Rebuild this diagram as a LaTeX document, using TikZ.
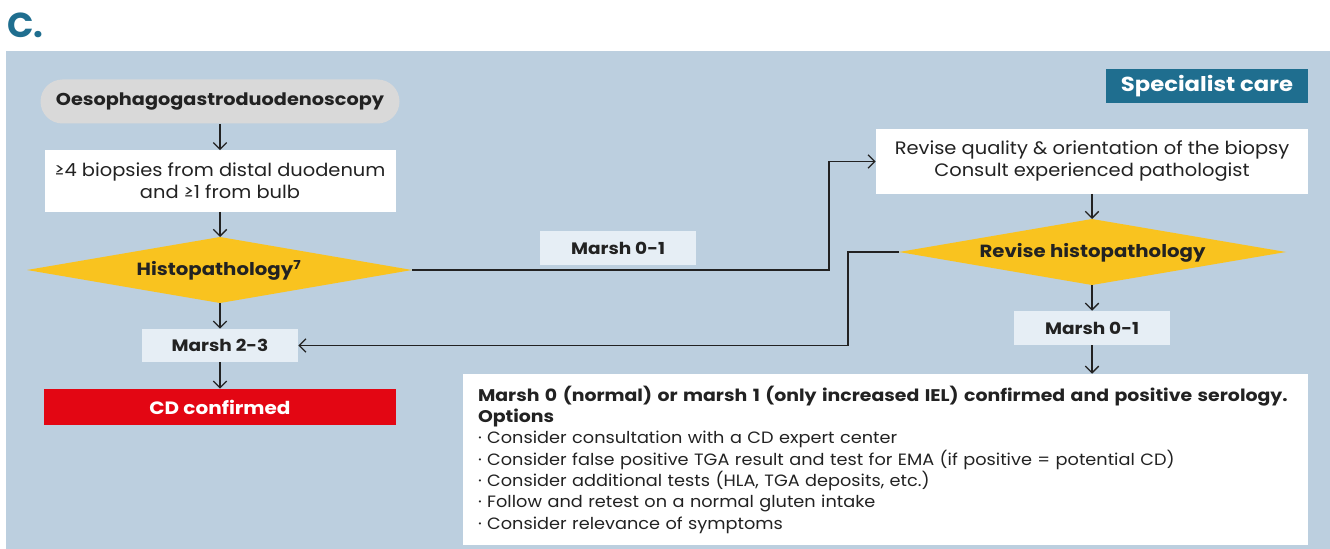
\documentclass[tikz,border=0pt]{standalone}
\usepackage{fontspec}
\setmainfont{Poppins}[FakeStretch=1.08, BoldFeatures={FakeStretch=1.12}]
\newfontfamily\titlefont{Poppins}
\usetikzlibrary{arrows.meta,calc}
\definecolor{bgblue}{HTML}{BCCFDF}
\definecolor{pillgray}{HTML}{D9D9D9}
\definecolor{ylw}{HTML}{F9C31F}
\definecolor{lbl}{HTML}{E6EEF5}
\definecolor{cdred}{HTML}{E30613}
\definecolor{teal}{HTML}{1F6E8F}
\definecolor{ink}{HTML}{222222}
\tikzset{
  every node/.style={text=ink},
  whitebox/.style={fill=white, draw=none, inner sep=0pt, align=center, font=\fontsize{13.5}{16.5}\selectfont},
  lblbox/.style={fill=lbl, draw=none, inner sep=0pt, align=center, minimum width=117pt, font=\fontsize{12.4}{15}\selectfont\bfseries},
  decision/.style={fill=ylw, draw=none},
  dtext/.style={inner sep=0pt, font=\fontsize{13.2}{15}\selectfont\bfseries},
  conn/.style={draw=ink, line width=1pt, -{Straight Barb[length=5pt,width=10pt,line width=1pt]}},
  plain/.style={draw=ink, line width=1pt}
}
\begin{document}
\begin{tikzpicture}[x=0.75pt,y=-0.75pt]
\useasboundingbox (0,0) rectangle (1330,549);
\fill[bgblue] (6,51) rectangle (1330,549);
\node[anchor=base west, inner sep=0pt, text=teal, font=\fontsize{26}{26}\titlefont\bfseries] (title) at (7,38) {C.};
\node[fill=teal, inner sep=0pt, minimum width=151.5pt, minimum height=25.5pt, text=white, font=\fontsize{15.2}{16}\selectfont\bfseries] (spec) at (1207,86.5) {Specialist care};
% left column
\node[fill=pillgray, rounded corners=16.5pt, inner sep=0pt, minimum width=269.25pt, minimum height=33pt, font=\fontsize{12.9}{15}\selectfont\bfseries] (egd) at (220,101.5) {Oesophagogastroduodenoscopy};
\node[whitebox, minimum width=263.25pt, minimum height=45.75pt] (bio) at (220,181) {≥4 biopsies from distal duodenum\\and ≥1 from bulb};
\coordinate (histoN) at (220,237);
\coordinate (histoS) at (220,303);
\coordinate (histoE) at (412,270);
\coordinate (histoW) at (27,270);
\fill[decision] (histoN) -- (histoE) -- (histoS) -- (histoW) -- cycle;
\node[dtext] (histo) at (219,270.5) {Histopathology\textsuperscript{7}};
\node[lblbox, minimum height=24.75pt] (m23) at (220,345.5) {Marsh 2-3};
\node[fill=cdred, inner sep=0pt, minimum width=264pt, minimum height=27pt, text=white, font=\fontsize{13.4}{15}\selectfont\bfseries] (cd) at (220,407) {CD confirmed};
\node[lblbox, minimum height=25.5pt] (m01a) at (618,248) {Marsh 0-1};
% right column
\node[whitebox, minimum width=324pt, minimum height=48pt] (rq) at (1092,161.5) {Revise quality \& orientation of the biopsy\\Consult experienced pathologist};
\coordinate (rhN) at (1092,219);
\coordinate (rhS) at (1092,285);
\coordinate (rhE) at (1286,252);
\coordinate (rhW) at (899,252);
\fill[decision] (rhN) -- (rhE) -- (rhS) -- (rhW) -- cycle;
\node[dtext] (rh) at (1092.5,252.5) {Revise histopathology};
\node[lblbox, minimum height=25.5pt] (m01b) at (1092,328) {Marsh 0-1};
\node[fill=white, inner xsep=11.25pt, inner ysep=0pt, minimum width=633.75pt, minimum height=128.25pt, text width=611.25pt, align=left, font=\fontsize{12.3}{16}\selectfont] (opt) at (885.5,459.5) {{\fontsize{12.65}{16}\selectfont\bfseries Marsh 0 (normal) or marsh 1 (only increased IEL) confirmed and positive serology.}\\
{\fontsize{12.65}{16}\selectfont\bfseries Options}\\
· Consider consultation with a CD expert center\\
· Consider false positive TGA result and test for EMA (if positive = potential CD)\\
· Consider additional tests (HLA, TGA deposits, etc.)\\
· Follow and retest on a normal gluten intake\\
· Consider relevance of symptoms};
% connectors
\coordinate (j1) at (829,270);
\coordinate (j2) at (848,252);
\draw[conn] (egd.south) -- (bio.north);
\draw[conn] (bio.south) -- (histoN);
\draw[conn] (histoS) -- (m23.north);
\draw[conn] (m23.south) -- (cd.north);
\draw[conn] (histoE) -- (j1) |- (rq.west);
\draw[conn] (rq.south) -- (rhN);
\draw[conn] (rhW) -- (j2) |- (m23.east);
\draw[conn] (rhS) -- (m01b.north);
\draw[conn] (m01b.south) -- (m01b.south |- opt.north);
\end{tikzpicture}
\end{document}
